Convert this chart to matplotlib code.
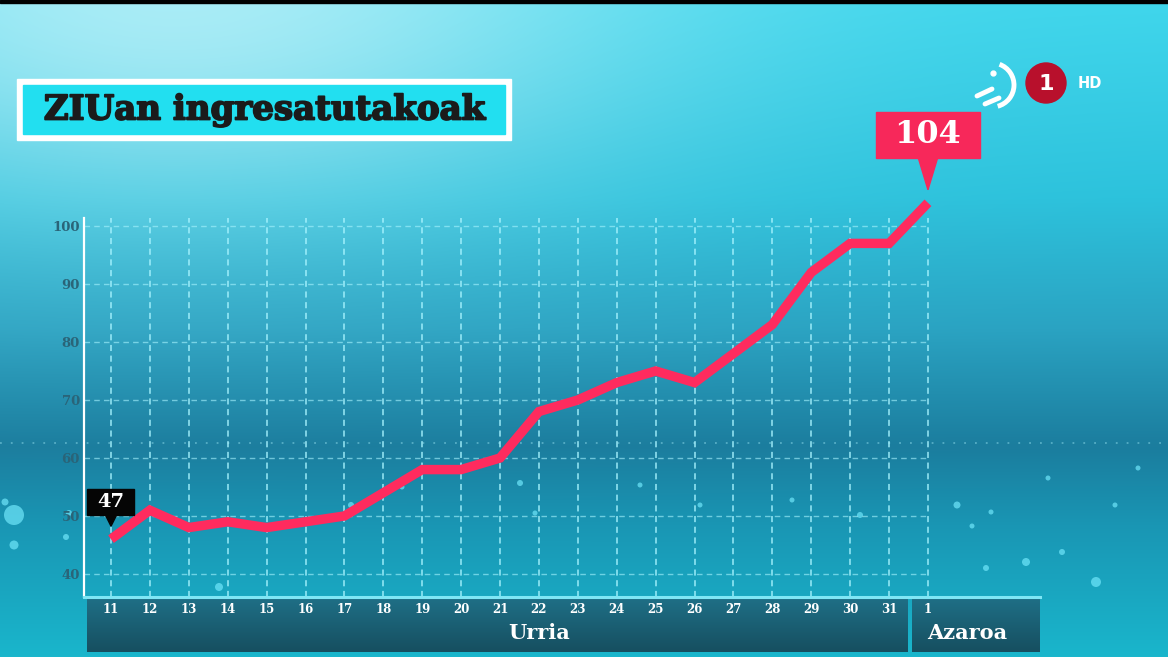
import numpy as np
import matplotlib.pyplot as plt
import matplotlib.patheffects as pe
from matplotlib.patches import Rectangle, Polygon, Circle, Arc
from matplotlib.colors import to_rgb

W, H = 1168, 657

# data
days = ['11', '12', '13', '14', '15', '16', '17', '18', '19', '20', '21',
        '22', '23', '24', '25', '26', '27', '28', '29', '30', '31', '1']
icu = [46, 51, 48, 49, 48, 49, 50, 54, 58, 58, 60,
       68, 70, 73, 75, 73, 78, 83, 92, 97, 97, 104]
y_ticks = [40, 50, 60, 70, 80, 90, 100]
months = ['Urria', 'Azaroa']
callout_idx = [0, 21]
callout_text = ['47', '104']
title = 'ZIUan ingresatutakoak'

# decorative bokeh dots in the background (pixel x, pixel y, radius)
dot_x = [14, 14, 5, 69, 66, 219, 520, 535, 351, 402, 1096, 1026, 1062, 986,
         957, 991, 972, 1048, 1115, 1138, 700, 792, 860, 640]
dot_y = [515, 545, 502, 513, 537, 587, 483, 513, 505, 487, 582, 562, 552, 568,
         505, 512, 526, 478, 505, 468, 505, 500, 515, 485]
dot_r = [10, 4.5, 3.5, 3, 3, 4, 3, 2.5, 3, 2.5, 5, 4, 3, 3,
         3.5, 2.5, 2.5, 2.5, 2.5, 2.5, 2.5, 2.5, 3, 2.5]

SERIF = 'DejaVu Serif'
LINE_C = '#ff2b5e'

fig = plt.figure(figsize=(W / 100, H / 100), dpi=100)

# ---- background gradient ----
yy = np.linspace(0, 1, H)[:, None]
xx = np.linspace(0, 1, W)[None, :]
stops = [0, .3, .5, .68, .8, 1]
cols = ['#3fd6ec', '#2cc2dc', '#2aa3c2', '#1b7d9e', '#1996b4', '#1ab6cc']
rgb = np.array([to_rgb(c) for c in cols])
img = np.zeros((H, W, 3))
for k in range(3):
    img[:, :, k] = np.interp(yy, stops, rgb[:, k])
glow = 0.55 * np.exp(-(((xx - 0.15) / 0.4) ** 2 + (yy / 0.33) ** 2))
img = img * (1 - glow[:, :, None]) + glow[:, :, None]

bg = fig.add_axes([0, 0, 1, 1], zorder=0)
bg.imshow(img, aspect='auto', extent=(0, W, H, 0))
bg.set_xlim(0, W)
bg.set_ylim(H, 0)
bg.axis('off')
bg.add_patch(Rectangle((0, 0), W, 3, color='black'))
bg.plot([0, W], [443, 443], ls=(0, (1, 5)), color='#9fe9f5', alpha=0.45, lw=1.3)
for dx, dy, dr in zip(dot_x, dot_y, dot_r):
    bg.add_patch(Circle((dx, dy), dr, color='#6fe6fa', alpha=0.7, lw=0))

# ---- main chart ----
ax = fig.add_axes([84 / W, 1 - 597 / H, (1040 - 84) / W, (597 - 218) / H], zorder=2)
ax.patch.set_alpha(0)
x = np.arange(len(days))
x0, x1 = -0.694, 23.88
y0, y1 = 36.03, 101.38
ax.set_xlim(x0, x1)
ax.set_ylim(y0, y1)

for i in x:
    ax.plot([i, i], [y0, y1], ls=(0, (4, 3)), color='#a8f4ff', lw=1.1, alpha=0.9, zorder=1)
ax.hlines(y_ticks, x0, x[-1], linestyles=(0, (4, 3)), colors='#a8f4ff', lw=1.0, alpha=0.6, zorder=1)

ax.plot(x, icu, color=LINE_C, lw=6.8, solid_capstyle='butt', solid_joinstyle='miter',
        clip_on=False, zorder=5)

for s in ['top', 'right']:
    ax.spines[s].set_visible(False)
ax.spines['left'].set_color('white')
ax.spines['left'].set_linewidth(1.6)
ax.spines['bottom'].set_color('#7fe6f5')
ax.spines['bottom'].set_linewidth(2.2)

ax.set_yticks(y_ticks)
ax.set_yticklabels([str(v) for v in y_ticks], color='#2a6478', fontsize=9.5,
                   family=SERIF, fontweight='bold')
ax.set_xticks(x)
ax.set_xticklabels(days, color='white', fontsize=8.5, family=SERIF, fontweight='bold')
ax.tick_params(axis='y', length=0, pad=3)
ax.tick_params(axis='x', length=0, pad=4)

# month band below the axis
sep = x[-1] - 0.5
band_y0 = y0 - 1.5 / 5.8
band_y1 = y0 - 55 / 5.8
band = np.linspace(0, 1, 50)[:, None]
bc = np.array([to_rgb('#1f6f86'), to_rgb('#164f60')])
band_img = np.zeros((50, 2, 3))
for k in range(3):
    band_img[:, :, k] = bc[0, k] + (bc[1, k] - bc[0, k]) * band
for bx0, bx1 in [(x0 + 0.07, sep - 0.04), (sep + 0.1, x1)]:
    im = ax.imshow(band_img, aspect='auto', extent=(bx0, bx1, band_y1, band_y0),
                   zorder=0)
    im.set_clip_on(False)
ax.set_xlim(x0, x1)
ax.set_ylim(y0, y1)
ax.text(11, (band_y0 + band_y1) / 2 - 1.4, months[0], color='white', fontsize=15,
        family=SERIF, fontweight='bold', ha='center', va='center', clip_on=False)
ax.text(22.0, (band_y0 + band_y1) / 2 - 1.4, months[1], color='white', fontsize=15,
        family=SERIF, fontweight='bold', ha='center', va='center', clip_on=False)

# ---- overlay in pixel coords ----
ov = fig.add_axes([0, 0, 1, 1], zorder=3)
ov.patch.set_alpha(0)
ov.set_xlim(0, W)
ov.set_ylim(H, 0)
ov.axis('off')

# title box
ov.add_patch(Rectangle((17, 79), 494, 61, color='white'))
ov.add_patch(Rectangle((23, 85), 482, 49, color='#22dff0'))
ov.text(264, 110, title, fontsize=24.5, family=SERIF, fontweight='bold',
        color='#1b1b1b', ha='center', va='center',
        path_effects=[pe.withStroke(linewidth=1.3, foreground='#1b1b1b')])

# logo
ov.add_patch(Circle((1046, 83), 20, color='#b8102c'))
ov.text(1046, 84, '1', color='white', fontsize=16, fontweight='bold', ha='center', va='center')
ov.text(1090, 84, 'HD', color='white', fontsize=10.5, fontweight='bold', ha='center', va='center')
ov.add_patch(Arc((992, 85), 44, 44, theta1=-70, theta2=75, color='white', lw=3.5))
ov.plot([977, 992], [96, 89], color='white', lw=3.5, solid_capstyle='round')
ov.plot([985, 999], [104, 98], color='white', lw=3.5, solid_capstyle='round')
ov.plot([993], [73], 'o', color='white', ms=3.5)

# callouts
styles = [dict(w=47, h=26, gap=11, half=6, fs=14, color='#050505'),
          dict(w=104, h=46, gap=32, half=10, fs=23, color='#f7285a')]
to_px = ov.transData.inverted()
for idx, txt, st in zip(callout_idx, callout_text, styles):
    px, py = to_px.transform(ax.transData.transform((x[idx], icu[idx])))
    tip = py - 13
    bottom = tip - st['gap']
    ov.add_patch(Rectangle((px - st['w'] / 2, bottom - st['h']), st['w'], st['h'],
                           color=st['color']))
    ov.add_patch(Polygon([(px - st['half'], bottom - 1), (px + st['half'], bottom - 1),
                          (px, tip)], color=st['color']))
    ov.text(px, bottom - st['h'] / 2, txt, color='white', fontsize=st['fs'],
            family=SERIF, fontweight='bold', ha='center', va='center')

fig.savefig('out.png', dpi=100)
